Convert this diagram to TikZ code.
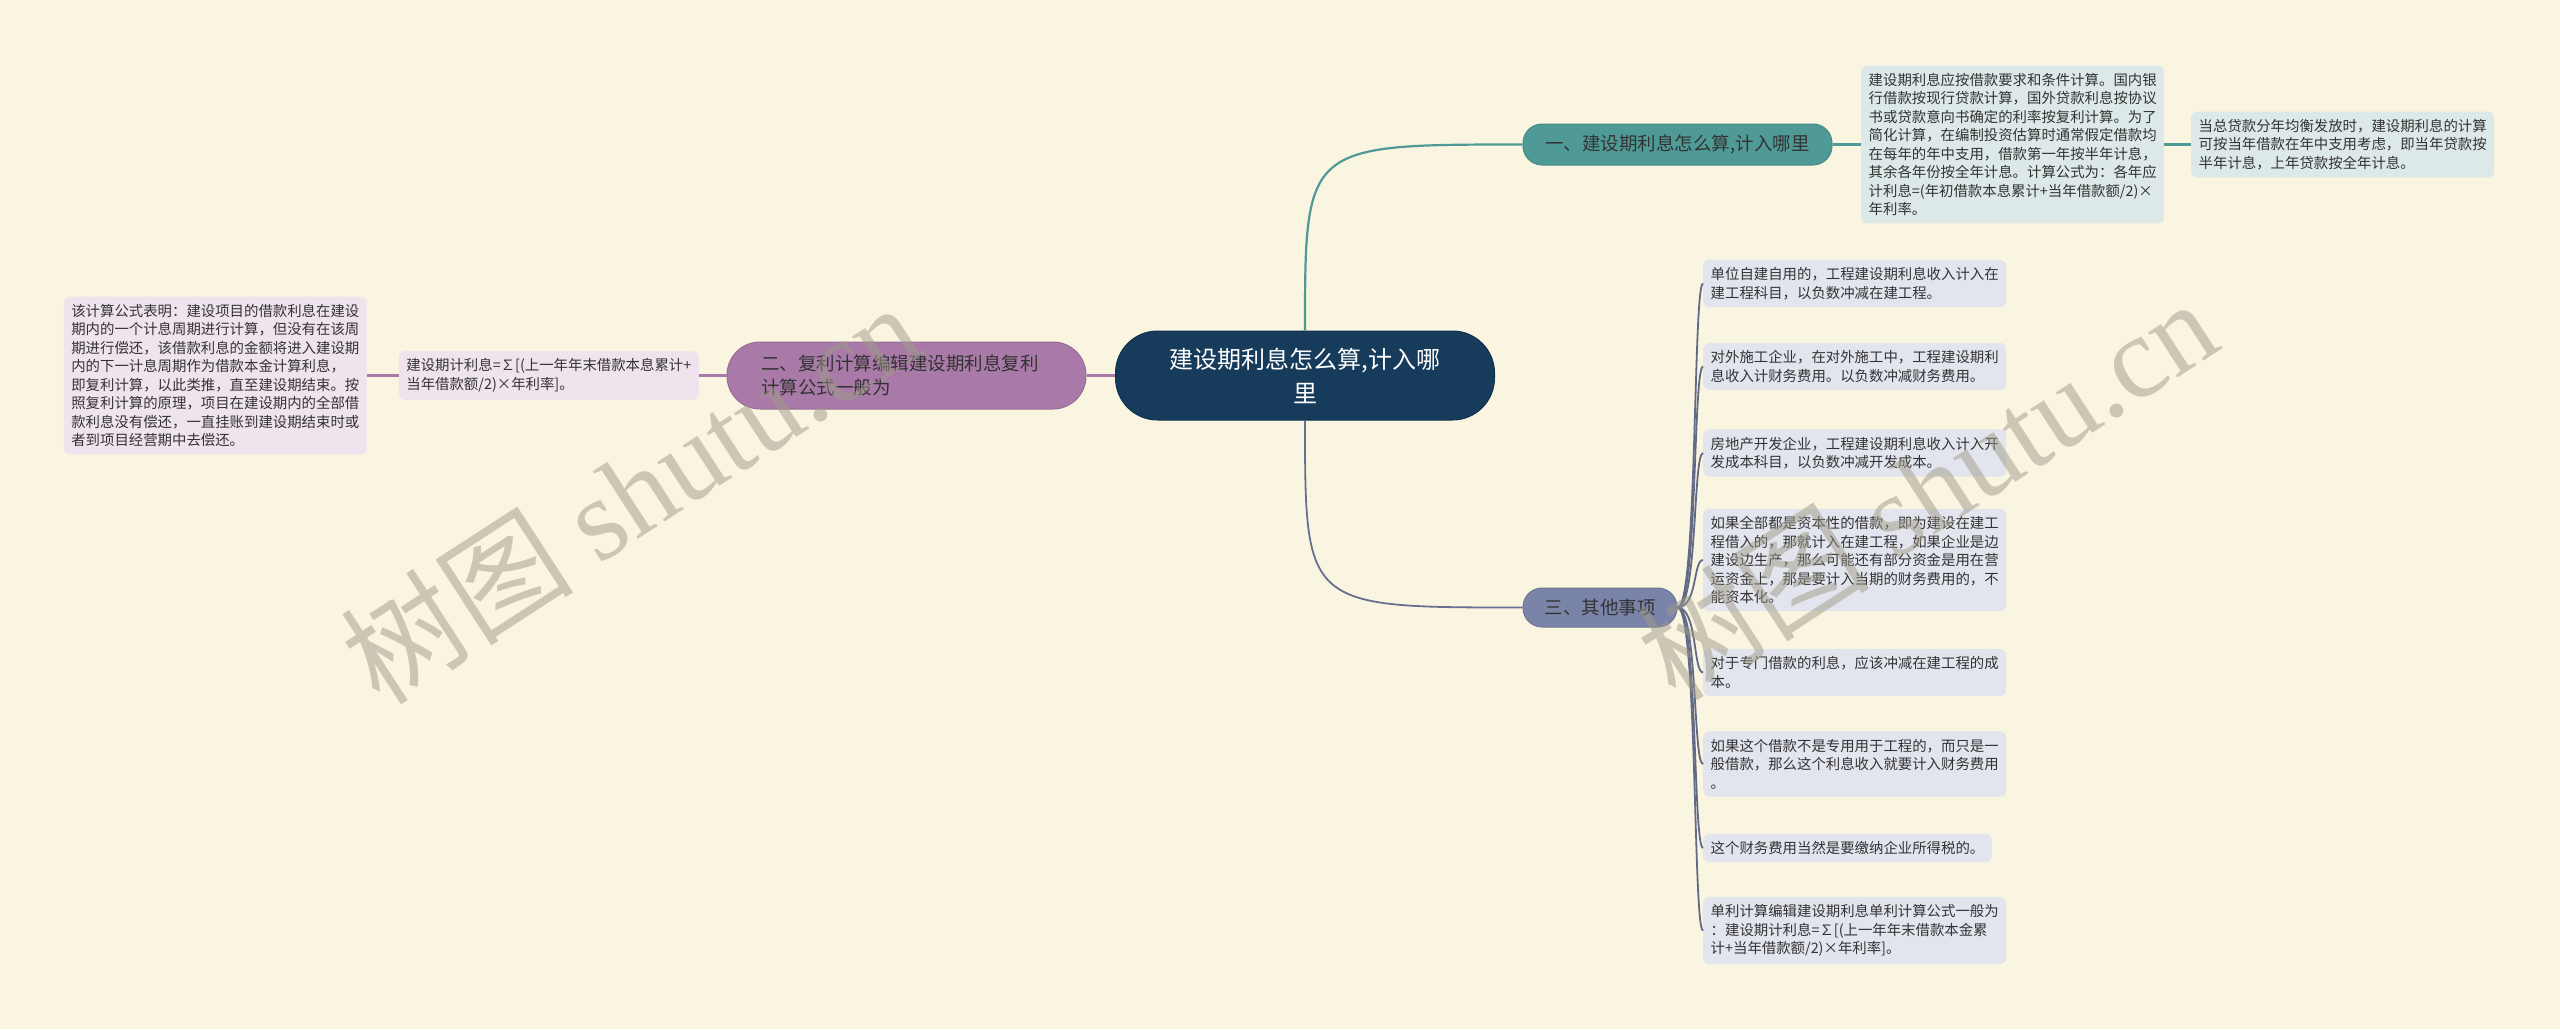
\documentclass[tikz,border=0pt]{standalone}
\usepackage{fontspec}
\setmainfont{Noto Sans CJK SC}
\newfontfamily\wmserif{Liberation Serif}
\definecolor{bgcream}{HTML}{FAF5E1}
\definecolor{rootblue}{HTML}{163B5B}
\definecolor{teal1}{HTML}{4F9A97}
\definecolor{purple2}{HTML}{A97AA8}
\definecolor{slate3}{HTML}{7A84A8}
\definecolor{leaf1}{HTML}{DCE9E8}
\definecolor{leaf2}{HTML}{EFE3EE}
\definecolor{leaf3}{HTML}{E3E5EE}
\definecolor{textgray}{HTML}{333333}
\definecolor{wmgray}{HTML}{9E9A88}
\tikzset{
  rootbox/.style={fill=rootblue,draw=rootblue!85!black,line width=1pt,rounded corners=42pt,
    minimum width=379pt,minimum height=89pt,text=white,align=center,
    font=\fontsize{24}{34}\selectfont},
  branchbox/.style={rounded corners=19pt,line width=1pt,text=textgray,inner sep=0pt,
    font=\fontsize{18.5}{24.3}\selectfont},
  leafbox/.style={rounded corners=6pt,inner sep=7.5pt,text=textgray,align=left,
    font=\fontsize{14.4}{18.5}\selectfont},
  link/.style={line width=2.2pt},
  wmark/.style={text=wmgray,opacity=0.5,rotate=33,font=\fontsize{117}{117}\selectfont}
}
\begin{document}
\begin{tikzpicture}[x=1pt,y=-1pt]
	\fill[bgcream] (0,0) rectangle (2560,1029);
	\useasboundingbox (0,0) rectangle (2560,1029);
	
	\node[rootbox] (root) at (1305,375.5) {建设期利息怎么算,计入哪\\里};
	
	% branch 1
	\node[branchbox,fill=teal1,draw=teal1!90!black,minimum width=309pt,minimum height=41pt] (b1) at (1677.5,144.5) {一、建设期利息怎么算,计入哪里};
	\node[leafbox,fill=leaf1,anchor=west] (l1a) at (1861,144.5) {建设期利息应按借款要求和条件计算。国内银\\
行借款按现行贷款计算，国外贷款利息按协议\\
书或贷款意向书确定的利率按复利计算。为了\\
简化计算，在编制投资估算时通常假定借款均\\
在每年的年中支用，借款第一年按半年计息，\\
其余各年份按全年计息。计算公式为：各年应\\
计利息=(年初借款本息累计+当年借款额/2)×\\
年利率。};
	\node[leafbox,fill=leaf1,anchor=west] (l1b) at (2191,144.5) {当总贷款分年均衡发放时，建设期利息的计算\\
可按当年借款在年中支用考虑，即当年贷款按\\
半年计息，上年贷款按全年计息。};
	
	% branch 2
	\node[branchbox,fill=purple2,draw=purple2!90!black,rounded corners=33pt,text width=291pt,align=left,inner xsep=34pt,minimum height=67pt] (b2) at (906.5,375.5) {二、复利计算编辑建设期利息复利\\计算公式一般为};
	\node[leafbox,fill=leaf2,anchor=east] (l2a) at (699,375.5) {建设期计利息=∑[(上一年年末借款本息累计+\\
当年借款额/2)×年利率]。};
	\node[leafbox,fill=leaf2,anchor=east] (l2b) at (367,375.5) {该计算公式表明：建设项目的借款利息在建设\\
期内的一个计息周期进行计算，但没有在该周\\
期进行偿还，该借款利息的金额将进入建设期\\
内的下一计息周期作为借款本金计算利息，\\
即复利计算，以此类推，直至建设期结束。按\\
照复利计算的原理，项目在建设期内的全部借\\
款利息没有偿还，一直挂账到建设期结束时或\\
者到项目经营期中去偿还。};
	
	% branch 3
	\node[branchbox,fill=slate3,draw=slate3!90!black,minimum width=154pt,minimum height=39pt] (b3) at (1600,607.5) {三、其他事项};
	\node[leafbox,fill=leaf3,anchor=west] (l3a) at (1703,283.5) {单位自建自用的，工程建设期利息收入计入在\\
建工程科目，以负数冲减在建工程。};
	\node[leafbox,fill=leaf3,anchor=west] (l3b) at (1703,366.5) {对外施工企业，在对外施工中，工程建设期利\\
息收入计财务费用。以负数冲减财务费用。};
	\node[leafbox,fill=leaf3,anchor=west] (l3c) at (1703,453) {房地产开发企业，工程建设期利息收入计入开\\
发成本科目，以负数冲减开发成本。};
	\node[leafbox,fill=leaf3,anchor=west] (l3d) at (1703,560) {如果全部都是资本性的借款，即为建设在建工\\
程借入的，那就计入在建工程，如果企业是边\\
建设边生产，那么可能还有部分资金是用在营\\
运资金上，那是要计入当期的财务费用的，不\\
能资本化。};
	\node[leafbox,fill=leaf3,anchor=west] (l3e) at (1703,672.5) {对于专门借款的利息，应该冲减在建工程的成\\
本。};
	\node[leafbox,fill=leaf3,anchor=west] (l3f) at (1703,764) {如果这个借款不是专用用于工程的，而只是一\\
般借款，那么这个利息收入就要计入财务费用\\
。};
	\node[leafbox,fill=leaf3,anchor=west] (l3g) at (1703,848) {这个财务费用当然是要缴纳企业所得税的。};
	\node[leafbox,fill=leaf3,anchor=west] (l3h) at (1703,930.5) {单利计算编辑建设期利息单利计算公式一般为\\
：建设期计利息=∑[(上一年年末借款本金累\\
计+当年借款额/2)×年利率]。};
	
	% connectors
	\draw[link,teal1] (root.north) .. controls (root.north |- b1.west) .. (b1.west);
	\draw[link,teal1] (b1.east) -- (l1a.west);
	\draw[link,teal1] (l1a.east) -- (l1b.west);
	\draw[link,purple2] (root.west) -- (b2.east);
	\draw[link,purple2] (b2.west) -- (l2a.east);
	\draw[link,purple2] (l2a.west) -- (l2b.east);
	\draw[link,slate3!85!black,line width=1.8pt] (root.south) .. controls (root.south |- b3.west) .. (b3.west);
	\foreach \n in {a,...,h}
	{
		\draw[slate3!80!black,line width=1.8pt] (b3.east) .. controls +(20,0) and +(-10,0) .. (l3\n.west);
	}
	
	% watermarks
	\node[wmark] (wm1) at (630,492) {树图 {\wmserif shutu.cn}};
	\node[wmark] (wm2) at (1926,488) {树图 {\wmserif shutu.cn}};
\end{tikzpicture}
\end{document}
